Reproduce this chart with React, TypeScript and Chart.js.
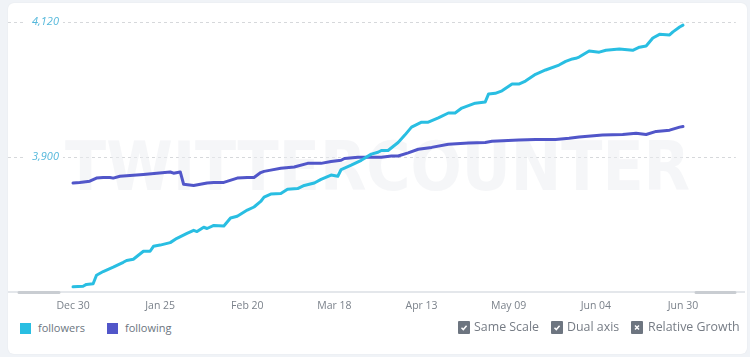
import React, { useEffect, useRef } from "react";
import { Chart, registerables } from "chart.js";

Chart.register(...registerables);

// Days counted from Dec 30
const tickDays = [0, 26, 52, 78, 104, 130, 156, 182];
const tickLabels = ["Dec 30", "Jan 25", "Feb 20", "Mar 18", "Apr 13", "May 09", "Jun 04", "Jun 30"];

const leftTicks = [3900, 4120];
const rightTicks = [580, 800];

const followers: [number, number][] = [
  [0, 3689], [3, 3690], [4, 3693], [6, 3694], [7, 3708], [9, 3714], [12, 3721], [15, 3729],
  [16, 3732], [18, 3734], [21, 3747], [23, 3747], [24, 3755], [26, 3757], [29, 3761], [31, 3768],
  [34, 3776], [36, 3781], [37, 3779], [39, 3786], [40, 3784], [42, 3789], [45, 3788], [47, 3801],
  [49, 3804], [52, 3814], [54, 3819], [56, 3828], [57, 3835], [59, 3840], [62, 3841], [64, 3848],
  [67, 3849], [69, 3854], [72, 3858], [74, 3864], [77, 3871], [79, 3869], [80, 3880], [83, 3887],
  [86, 3895], [89, 3905], [91, 3908], [92, 3911], [94, 3911], [97, 3924], [99, 3936], [101, 3949],
  [104, 3957], [106, 3957], [109, 3964], [112, 3972], [114, 3972], [116, 3980], [120, 3988], [123, 3990],
  [124, 4003], [126, 4004], [128, 4008], [131, 4019], [133, 4019], [135, 4024], [138, 4035], [141, 4042],
  [145, 4050], [147, 4056], [149, 4060], [150, 4061], [151, 4063], [154, 4073], [157, 4071], [159, 4074],
  [163, 4076], [167, 4074], [169, 4079], [171, 4081], [173, 4094], [175, 4100], [178, 4099], [179, 4104],
  [181, 4112], [182, 4115],
];

const following: [number, number][] = [
  [0, 538], [2, 539], [5, 541], [7, 546], [9, 547], [11, 547], [12, 546], [14, 549],
  [21, 552], [25, 554], [29, 556], [30, 554], [32, 556], [33, 536], [36, 534], [40, 538],
  [42, 539], [45, 539], [49, 546], [52, 547], [54, 547], [56, 555], [57, 557], [59, 559],
  [62, 562], [66, 564], [70, 570], [74, 570], [77, 573], [80, 575], [81, 578], [85, 580],
  [89, 580], [92, 580], [95, 582], [97, 582], [100, 587], [103, 593], [107, 596], [112, 601],
  [118, 603], [123, 604], [125, 606], [133, 608], [138, 609], [144, 609], [148, 611], [151, 613],
  [158, 616], [164, 617], [168, 619], [171, 617], [174, 622], [178, 624], [181, 629], [182, 630],
];

const FOLLOWERS_COLOR = "#29bee2";
const FOLLOWING_COLOR = "#5156c9";

const watermarkPlugin = {
  id: "watermark",
  beforeDatasetsDraw(chart: any) {
    const { ctx, chartArea } = chart;
    ctx.save();
    ctx.fillStyle = "rgba(236,238,242,0.5)";
    ctx.font = "bold 68px 'DejaVu Sans'";
    ctx.textAlign = "left";
    ctx.textBaseline = "alphabetic";
    ctx.fillText("TWITTERCOUNTER", chartArea.left + 57, 187, 625);
    ctx.restore();
  },
};

const handlesPlugin = {
  id: "handles",
  afterDraw(chart: any) {
    const { ctx, chartArea } = chart;
    ctx.save();
    ctx.strokeStyle = "#c9cdd2";
    ctx.lineWidth = 3;
    ctx.lineCap = "round";
    const y = chartArea.bottom;
    ctx.beginPath();
    ctx.moveTo(chartArea.left + 11, y);
    ctx.lineTo(chartArea.left + 51, y);
    ctx.moveTo(chartArea.right - 49, y);
    ctx.lineTo(chartArea.right - 10, y);
    ctx.stroke();
    ctx.restore();
  },
};

function CheckBox({ cross }: { cross?: boolean }) {
  return (
    <svg width="12" height="13" viewBox="0 0 12 13" style={{ display: "block" }}>
      <rect x="0" y="0" width="12" height="13" rx="1" fill="#6d7580" />
      {cross ? (
        <path d="M4 4.5 L8 8.5 M8 4.5 L4 8.5" stroke="#fff" strokeWidth="1.5" fill="none" />
      ) : (
        <path d="M3.5 6.8 L5.3 8.6 L8.6 4.8" stroke="#fff" strokeWidth="1.5" fill="none" />
      )}
    </svg>
  );
}

export default function App() {
  const canvasRef = useRef<HTMLCanvasElement | null>(null);

  useEffect(() => {
    if (!canvasRef.current) return;
    const chart = new Chart(canvasRef.current, {
      type: "line",
      data: {
        datasets: [
          {
            label: "followers",
            data: followers.map(([d, v]) => ({ x: d, y: v })),
            yAxisID: "y",
            borderColor: FOLLOWERS_COLOR,
            backgroundColor: FOLLOWERS_COLOR,
            borderWidth: 3,
            pointRadius: 0,
            tension: 0,
            borderJoinStyle: "round",
            borderCapStyle: "round",
          },
          {
            label: "following",
            data: following.map(([d, v]) => ({ x: d, y: v })),
            yAxisID: "y1",
            borderColor: FOLLOWING_COLOR,
            backgroundColor: FOLLOWING_COLOR,
            borderWidth: 3,
            pointRadius: 0,
            tension: 0,
            borderJoinStyle: "round",
            borderCapStyle: "round",
          },
        ],
      },
      options: {
        animation: false,
        responsive: false,
        maintainAspectRatio: false,
        layout: { padding: { top: 7, bottom: 1, left: 0, right: 0 } },
        plugins: { legend: { display: false }, tooltip: { enabled: false } },
        scales: {
          x: {
            type: "linear",
            min: -19.4,
            max: 200.5,
            afterBuildTicks: (s: any) => {
              s.ticks = tickDays.map((v) => ({ value: v }));
            },
            ticks: {
              autoSkip: false,
              maxRotation: 0,
              padding: 7,
              color: "#7b828b",
              font: { family: "'Open Sans'", size: 10.5 },
              callback: (v: any) => {
                const i = tickDays.indexOf(Number(v));
                return i >= 0 ? tickLabels[i] : "";
              },
            },
            grid: { display: false, drawTicks: false },
            border: { display: true, color: "#e4e7eb", width: 2 },
          },
          y: {
            type: "linear",
            position: "left",
            min: 3680,
            max: 4139.6,
            afterBuildTicks: (s: any) => {
              s.ticks = leftTicks.map((v) => ({ value: v }));
            },
            afterFit: (s: any) => {
              s.width = 0;
              s.paddingTop = 0;
              s.paddingBottom = 0;
            },
            ticks: {
              mirror: true,
              padding: 24,
              color: "#55b8db",
              font: { family: "'Open Sans'", size: 11, style: "italic" },
              callback: (v: any) => Number(v).toLocaleString("en-US"),
              showLabelBackdrop: true,
              backdropColor: "#ffffff",
              backdropPadding: { top: 2, bottom: 2, left: 6, right: 4 },
            },
            grid: { color: "#d6d8db", lineWidth: 1, drawTicks: false },
            border: { display: false, dash: [3, 3] },
          },
          y1: {
            type: "linear",
            position: "right",
            min: 360,
            max: 819.6,
            afterBuildTicks: (s: any) => {
              s.ticks = rightTicks.map((v) => ({ value: v }));
            },
            afterFit: (s: any) => {
              s.width = 0;
              s.paddingTop = 0;
              s.paddingBottom = 0;
            },
            ticks: {
              mirror: true,
              padding: 19,
              color: "#7b7bc6",
              font: { family: "'Open Sans'", size: 11, style: "italic" },
              callback: (v: any) => Number(v).toLocaleString("en-US"),
              showLabelBackdrop: true,
              backdropColor: "#ffffff",
              backdropPadding: { top: 2, bottom: 2, left: 10, right: 12 },
            },
            grid: { display: false, drawTicks: false },
            border: { display: false },
          },
        },
      } as any,
      plugins: [watermarkPlugin, handlesPlugin],
    });
    return () => chart.destroy();
  }, []);

  const legendText: React.CSSProperties = {
    position: "absolute",
    fontFamily: "'Open Sans', sans-serif",
    fontSize: 11,
    color: "#6c7580",
    lineHeight: "14px",
    whiteSpace: "nowrap",
  };
  const optText: React.CSSProperties = {
    position: "absolute",
    fontFamily: "'Open Sans', sans-serif",
    fontSize: 12.4,
    color: "#767c85",
    lineHeight: "16px",
    whiteSpace: "nowrap",
  };

  return (
    <div
      style={{
        position: "fixed",
        left: 0,
        top: 0,
        width: 750,
        height: 357,
        background: "#f0f3f7",
        overflow: "hidden",
      }}
    >
      <div
        style={{
          position: "absolute",
          left: 8,
          top: 3,
          width: 739,
          height: 351,
          background: "#ffffff",
          borderRadius: 6,
          boxShadow: "0 0 2px rgba(0,0,0,0.06)",
        }}
      />
      <canvas
        ref={canvasRef}
        width={737}
        height={317}
        style={{ position: "absolute", left: 8, top: 3, width: 737, height: 317 }}
      />
      <div style={{ position: "absolute", left: 20, top: 323, width: 11, height: 11, background: FOLLOWERS_COLOR }} />
      <div style={{ ...legendText, left: 38, top: 321 }}>followers</div>
      <div style={{ position: "absolute", left: 107, top: 323, width: 11, height: 11, background: FOLLOWING_COLOR }} />
      <div style={{ ...legendText, left: 125, top: 321 }}>following</div>

      <div style={{ position: "absolute", left: 458, top: 321 }}><CheckBox /></div>
      <div style={{ ...optText, left: 474, top: 319 }}>Same Scale</div>
      <div style={{ position: "absolute", left: 551, top: 321 }}><CheckBox /></div>
      <div style={{ ...optText, left: 567, top: 319 }}>Dual axis</div>
      <div style={{ position: "absolute", left: 631, top: 321 }}><CheckBox cross /></div>
      <div style={{ ...optText, left: 648, top: 319 }}>Relative Growth</div>
    </div>
  );
}
